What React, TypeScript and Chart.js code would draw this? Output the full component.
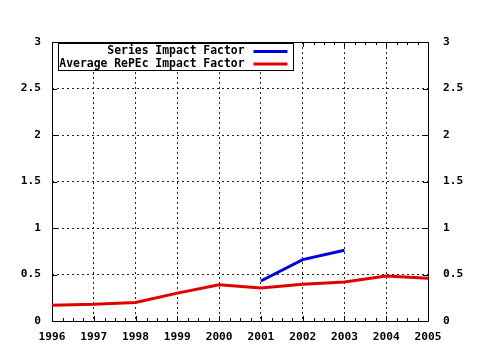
import React, { useEffect, useRef } from "react";
import { Chart, registerables } from "chart.js";

Chart.register(...registerables);

const years = ["1996", "1997", "1998", "1999", "2000", "2001", "2002", "2003", "2004", "2005"];
const seriesImpact: (number | null)[] = [null, null, null, null, null, 0.43, 0.66, 0.76, null, null];
const avgImpact: number[] = [0.17, 0.18, 0.2, 0.3, 0.39, 0.355, 0.395, 0.42, 0.485, 0.46];
const seriesNames = ["Series Impact Factor", "Average RePEc Impact Factor"];
const seriesColors = ["#0000e0", "#e00000"];
const yTickValues = [0, 0.5, 1, 1.5, 2, 2.5, 3];
const yTickLabels = ["0", "0.5", "1", "1.5", "2", "2.5", "3"];
const minorPerMajor = 4;

const FONT = "'DejaVu Sans Mono', 'Liberation Mono', monospace";

const yLabel = (v: any) => {
  const i = yTickValues.findIndex((t) => Math.abs(t - Number(v)) < 1e-6);
  return i >= 0 ? yTickLabels[i] : "";
};

const framePlugin = {
  id: "frameTicks",
  beforeDatasetsDraw(chart: any) {
    const { ctx, chartArea } = chart;
    const { left, right, top, bottom } = chartArea;
    const xs = chart.scales.x;
    const ys = chart.scales.y;
    ctx.save();
    ctx.setLineDash([]);
    ctx.strokeStyle = "#000";
    ctx.lineWidth = 1;
    ctx.beginPath();
    ctx.rect(Math.round(left) + 0.5, Math.round(top) + 0.5, Math.round(right - left), Math.round(bottom - top));
    ctx.stroke();
    const major = 5;
    const minor = 3;
    ctx.beginPath();
    const n = xs.ticks.length;
    for (let i = 0; i < n; i++) {
      const px = Math.round(xs.getPixelForTick(i)) + 0.5;
      ctx.moveTo(px, bottom);
      ctx.lineTo(px, bottom - major);
      ctx.moveTo(px, top);
      ctx.lineTo(px, top + major);
      if (i < n - 1) {
        const nx = xs.getPixelForTick(i + 1);
        for (let k = 1; k < minorPerMajor; k++) {
          const mx = Math.round(px + ((nx - px) * k) / minorPerMajor) + 0.5;
          ctx.moveTo(mx, bottom);
          ctx.lineTo(mx, bottom - minor);
          ctx.moveTo(mx, top);
          ctx.lineTo(mx, top + minor);
        }
      }
    }
    ys.ticks.forEach((t: any) => {
      const py = Math.round(ys.getPixelForValue(t.value)) + 0.5;
      ctx.moveTo(left, py);
      ctx.lineTo(left + major, py);
      ctx.moveTo(right, py);
      ctx.lineTo(right - major, py);
    });
    ctx.stroke();
    ctx.restore();
  },
  afterDraw(chart: any) {
    const { ctx, chartArea } = chart;
    const bx = Math.round(chartArea.left) + 6.5;
    const by = Math.round(chartArea.top) + 1.5;
    const bw = 235;
    const bh = 27;
    ctx.save();
    ctx.fillStyle = "#fff";
    ctx.fillRect(bx, by, bw, bh);
    ctx.strokeStyle = "#000";
    ctx.lineWidth = 1;
    ctx.strokeRect(bx, by, bw, bh);
    ctx.font = "bold 11.4px " + FONT;
    ctx.textAlign = "right";
    ctx.textBaseline = "middle";
    ctx.fillStyle = "#000";
    chart.data.datasets.forEach((ds: any, i: number) => {
      const cy = by + 8 + i * 12.6;
      ctx.fillText(ds.label, bx + 186, cy);
      ctx.strokeStyle = ds.borderColor;
      ctx.lineWidth = 3;
      ctx.beginPath();
      ctx.moveTo(bx + 195, cy);
      ctx.lineTo(bx + 229, cy);
      ctx.stroke();
    });
    ctx.restore();
  },
};

export default function App() {
  const ref = useRef<HTMLCanvasElement>(null);
  useEffect(() => {
    if (!ref.current) return;
    const tickFont = { family: FONT, size: 11.2, weight: "bold" as const };
    const yTicksCfg = (padding: number) => ({
      color: "#000",
      font: tickFont,
      padding,
      callback: yLabel,
    });
    const setYTicks = (s: any) => {
      s.ticks = yTickValues.map((v) => ({ value: v }));
    };
    const chart = new Chart(ref.current, {
      type: "line",
      data: {
        labels: years,
        datasets: [
          {
            label: seriesNames[0],
            data: seriesImpact,
            borderColor: seriesColors[0],
            backgroundColor: seriesColors[0],
            borderWidth: 3,
            pointRadius: 0,
            tension: 0,
            spanGaps: false,
          },
          {
            label: seriesNames[1],
            data: avgImpact,
            borderColor: seriesColors[1],
            backgroundColor: seriesColors[1],
            borderWidth: 3,
            pointRadius: 0,
            tension: 0,
          },
        ],
      },
      options: {
        animation: false,
        responsive: false,
        devicePixelRatio: 1,
        layout: { padding: { top: 42, left: 0, right: 0, bottom: 0 } },
        plugins: { legend: { display: false }, tooltip: { enabled: false } },
        scales: {
          x: {
            type: "category",
            offset: false,
            grid: { color: "#222", lineWidth: 1, drawTicks: false, offset: false },
            border: { display: false, dash: [2, 3] },
            ticks: { color: "#000", font: tickFont, padding: 9, maxRotation: 0, autoSkip: false },
            afterFit: (s: any) => {
              s.height = 29;
            },
          },
          y: {
            type: "linear",
            position: "left",
            min: yTickValues[0],
            max: yTickValues[yTickValues.length - 1],
            afterBuildTicks: setYTicks,
            grid: { color: "#222", lineWidth: 1, drawTicks: false },
            border: { display: false, dash: [2, 3] },
            ticks: yTicksCfg(11),
            afterFit: (s: any) => {
              s.width = 52;
            },
          },
          y2: {
            type: "linear",
            position: "right",
            min: yTickValues[0],
            max: yTickValues[yTickValues.length - 1],
            afterBuildTicks: setYTicks,
            grid: { display: false, drawTicks: false },
            border: { display: false },
            ticks: yTicksCfg(15),
            afterFit: (s: any) => {
              s.width = 52;
            },
          },
        },
      },
      plugins: [framePlugin],
    });
    return () => chart.destroy();
  }, []);
  return (
    <div style={{ position: "absolute", left: 0, top: 0, width: 480, height: 350, background: "#fff" }}>
      <canvas ref={ref} width={480} height={350} />
    </div>
  );
}
